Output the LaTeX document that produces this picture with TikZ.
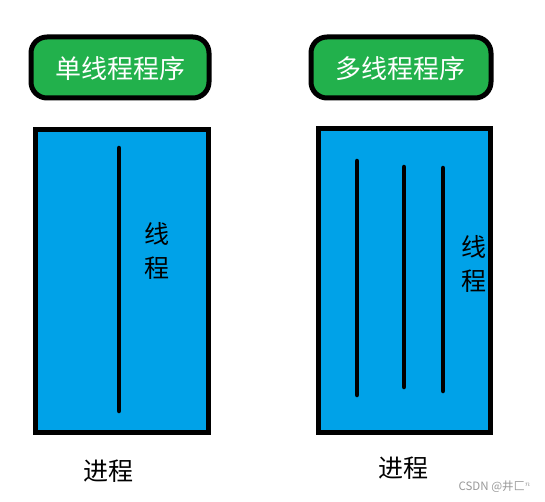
\documentclass[tikz,border=0pt]{standalone}
\usepackage{fontspec}
\newfontfamily\cjk{Noto Sans CJK SC}
\definecolor{progreen}{HTML}{22B14C}
\definecolor{procblue}{HTML}{00A2E8}
\tikzset{
    progbox/.style={draw=black,fill=progreen,line width=5pt,rounded corners=16pt},
    procbox/.style={draw=black,fill=procblue,line width=5pt},
    thread/.style={draw=black,line width=4.5pt,line cap=round},
    progtext/.style={text=white,font=\cjk\fontsize{26}{28}\selectfont,inner sep=0pt},
    labtext/.style={text=black,font=\cjk\fontsize{25}{34}\selectfont,inner sep=0pt,align=center},
}
\begin{document}
\begin{tikzpicture}[x=1pt,y=-1pt]
            \useasboundingbox[fill=white] (0,0) rectangle (545,502);

            \draw[progbox] (31,37) rectangle (209,98); % program boxes
            \draw[progbox] (311,37) rectangle (491,98);
            \node[progtext] (single) at (120,69) {单线程程序};
            \node[progtext] (multi) at (400,69) {多线程程序};

            \draw[procbox] (35.5,129.5) rectangle (208.5,432.5); % process boxes
            \draw[procbox] (318.5,128.5) rectangle (490.5,432);

            \draw[thread] (119,148) -- (119,411); % threads
            \draw[thread] (357,161) -- (357,395);
            \draw[thread] (404,167) -- (404,387);
            \draw[thread] (443,168) -- (443,391);

            \node[labtext] (thA) at (157,251) {线\\程}; % thread labels
            \node[labtext] (thB) at (474,264) {线\\程};

            \node[labtext] (procA) at (108,471) {进程}; % process labels
            \node[labtext] (procB) at (403,468) {进程};

            \node[text=gray!80,font=\cjk\fontsize{11.5}{13}\selectfont,anchor=east,inner sep=0pt] (mark) at (531,487) {CSDN @井匚$^{n}$};
        \end{tikzpicture}
\end{document}
